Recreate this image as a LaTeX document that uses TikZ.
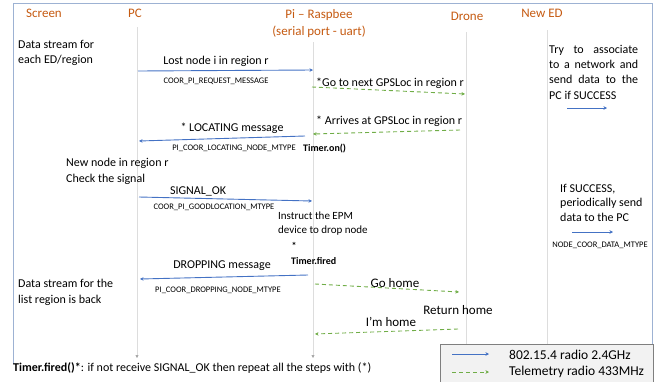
\documentclass[tikz,border=0pt]{standalone}
\usepackage{fontspec}
\setmainfont{Carlito}
\usetikzlibrary{arrows.meta}
\definecolor{hdr}{HTML}{C55A11}
\definecolor{blu}{HTML}{4472C4}
\definecolor{grn}{HTML}{70AD47}
\definecolor{frm}{HTML}{9DB2D3}
\definecolor{life}{HTML}{DDDDDD}
\definecolor{lgfill}{HTML}{F2F2F2}
\definecolor{lgdraw}{HTML}{7F7F7F}
\definecolor{tipgray}{HTML}{A6A6A6}
\begin{document}
\begin{tikzpicture}[x=1pt,y=-1pt,
  hdrtext/.style={text=hdr, font=\fontsize{13}{15}\selectfont, inner sep=0},
  body/.style={font=\fontsize{12}{15}\selectfont, inner sep=0, align=left},
  bigbody/.style={font=\fontsize{13}{15}\selectfont, inner sep=0},
  tinytext/.style={font=\fontsize{8.5}{9}\selectfont, inner sep=0},
  boldsmall/.style={font=\bfseries\fontsize{10}{12}\selectfont, inner sep=0},
  lifeline/.style={draw=life, line width=0.6pt, -{Triangle[length=3pt,width=3pt,color=tipgray]}},
  radio/.style={draw=blu, line width=0.9pt, -{Stealth[length=3.5pt,width=3.5pt]}},
  telem/.style={draw=grn, line width=0.9pt, dash pattern=on 4pt off 3pt, -{Stealth[length=3.5pt,width=3.5pt]}},
]
\useasboundingbox (0,0) rectangle (657,381);
% frame
\draw[frm, line width=1.6pt] (13.5,364) |- (652.5,3.5) -- (652.5,344);

% lifelines
\coordinate (pcT) at (137,27);  \coordinate (pcB) at (137,358);
\coordinate (piT) at (313,42);  \coordinate (piB) at (313,358);
\coordinate (drT) at (466,32);  \coordinate (drB) at (466,358);
\coordinate (edT) at (547,30);  \coordinate (edB) at (547,358);
\draw[lifeline] (pcT) -- (pcB);
\draw[lifeline] (piT) -- (piB);
\draw[lifeline] (drT) -- (drB);
\draw[lifeline] (edT) -- (edB);

% headers
\node[hdrtext] (hScreen) at (44,13) {Screen};
\node[hdrtext] (hPC) at (135,13) {PC};
\node[hdrtext, align=center, font=\fontsize{13}{16.5}\selectfont] (hPi) at (319,23.5) {Pi – Raspbee\\(serial port - uart)};
\node[hdrtext] (hDrone) at (467,16) {Drone};
\node[hdrtext] (hED) at (542,13) {New ED};

% left texts
\node[body, anchor=west] (ds1) at (18,53) {Data stream for\\each ED/region};
\node[body, anchor=west, font=\fontsize{12}{15.5}\selectfont] (nn) at (66,171.5) {New node in region r\\Check the signal};
\node[body, anchor=west, font=\fontsize{12}{16}\selectfont] (ds2) at (18,292) {Data stream for the\\list region is back};

% message 1
\coordinate (m1s) at (138,71); \coordinate (m1e) at (313,70);
\draw[radio] (m1s) -- (m1e);
\node[body] (l1) at (216,61) {Lost node i in region r};
\node[tinytext] (t1) at (216,81) {COOR\_PI\_REQUEST\_MESSAGE};

% message 2 (drone go)
\coordinate (m2s) at (312,87); \coordinate (m2e) at (465,94);
\draw[telem] (m2s) -- (m2e);
\node[body, anchor=west] (l2) at (316,83) {*Go to next GPSLoc in region r};

% message 3 (drone arrives)
\coordinate (m3s) at (460,130); \coordinate (m3e) at (313,134);
\draw[telem] (m3s) -- (m3e);
\node[body, anchor=west] (l3) at (316,121) {* Arrives at GPSLoc in region r};

% message 4 LOCATING
\coordinate (m4s) at (305,136); \coordinate (m4e) at (139,141);
\draw[radio] (m4s) -- (m4e);
\node[body] (l4) at (232,128) {* LOCATING message};
\node[tinytext] (t4) at (234,148) {PI\_COOR\_LOCATING\_NODE\_MTYPE};
\node[boldsmall, anchor=west] (ton) at (303,149) {Timer.on()};

% message 5 SIGNAL_OK
\coordinate (m5s) at (139,197); \coordinate (m5e) at (312,201);
\draw[radio] (m5s) -- (m5e);
\node[body] (l5) at (198,191) {SIGNAL\_OK};
\node[tinytext] (t5) at (214,207) {COOR\_PI\_GOODLOCATION\_MTYPE};

\node[body, anchor=west, font=\fontsize{11}{14}\selectfont] (epm) at (278,224) {Instruct the EPM\\device to drop node};
\node[boldsmall] (star) at (294,246) {*};
\node[boldsmall, anchor=west] (tfd) at (291,261) {Timer.fired};

% message 6 DROPPING
\coordinate (m6s) at (308,275); \coordinate (m6e) at (140,279);
\draw[radio] (m6s) -- (m6e);
\node[body] (l6) at (222,266) {DROPPING message};
\node[tinytext] (t6) at (218,290) {PI\_COOR\_DROPPING\_NODE\_MTYPE};

% go home
\coordinate (m7s) at (315,284); \coordinate (m7e) at (459,292);
\draw[telem] (m7s) -- (m7e);
\node[bigbody] (l7) at (395,283) {Go home};
\node[bigbody] (rh) at (458,310) {Return home};
\coordinate (m8s) at (458,329); \coordinate (m8e) at (315,334);
\draw[telem] (m8s) -- (m8e);
\node[bigbody] (l8) at (391,322) {I’m home};

% New ED notes
\node[body, anchor=north west, text width=89pt, align=justify, font=\fontsize{12}{15.2}\selectfont] (try) at (549,45) {Try to associate to a network and send data to the PC if SUCCESS};
\coordinate (a1s) at (567,108); \coordinate (a1e) at (607,108);
\draw[radio] (a1s) -- (a1e);
\node[body, anchor=north west, font=\fontsize{12}{14.5}\selectfont] (succ) at (560,184) {If SUCCESS,\\periodically send\\data to the PC};
\coordinate (a2s) at (572,232); \coordinate (a2e) at (613,232);
\draw[radio] (a2s) -- (a2e);
\node[tinytext] (t9) at (600,245) {NODE\_COOR\_DATA\_MTYPE};

% footnote
\node[anchor=west, inner sep=0, font=\fontsize{12}{14}\selectfont] (foot) at (13,368) {\textbf{Timer.fired()*}: if not receive SIGNAL\_OK then repeat all the steps with (*)};

% legend
\node[draw=lgdraw, fill=lgfill, line width=0.8pt, minimum width=213pt, minimum height=38pt, anchor=north west, inner sep=0] (legend) at (440,344) {};
\coordinate (lg1s) at (452,354); \coordinate (lg1e) at (489,354);
\coordinate (lg2s) at (452,372); \coordinate (lg2e) at (489,372);
\draw[radio] (lg1s) -- (lg1e);
\draw[telem] (lg2s) -- (lg2e);
\node[bigbody, anchor=west, font=\fontsize{13.5}{15}\selectfont] (lgt1) at (509,355) {802.15.4 radio 2.4GHz};
\node[bigbody, anchor=west, font=\fontsize{13.5}{15}\selectfont] (lgt2) at (509,372) {Telemetry radio 433MHz};
\end{tikzpicture}
\end{document}
